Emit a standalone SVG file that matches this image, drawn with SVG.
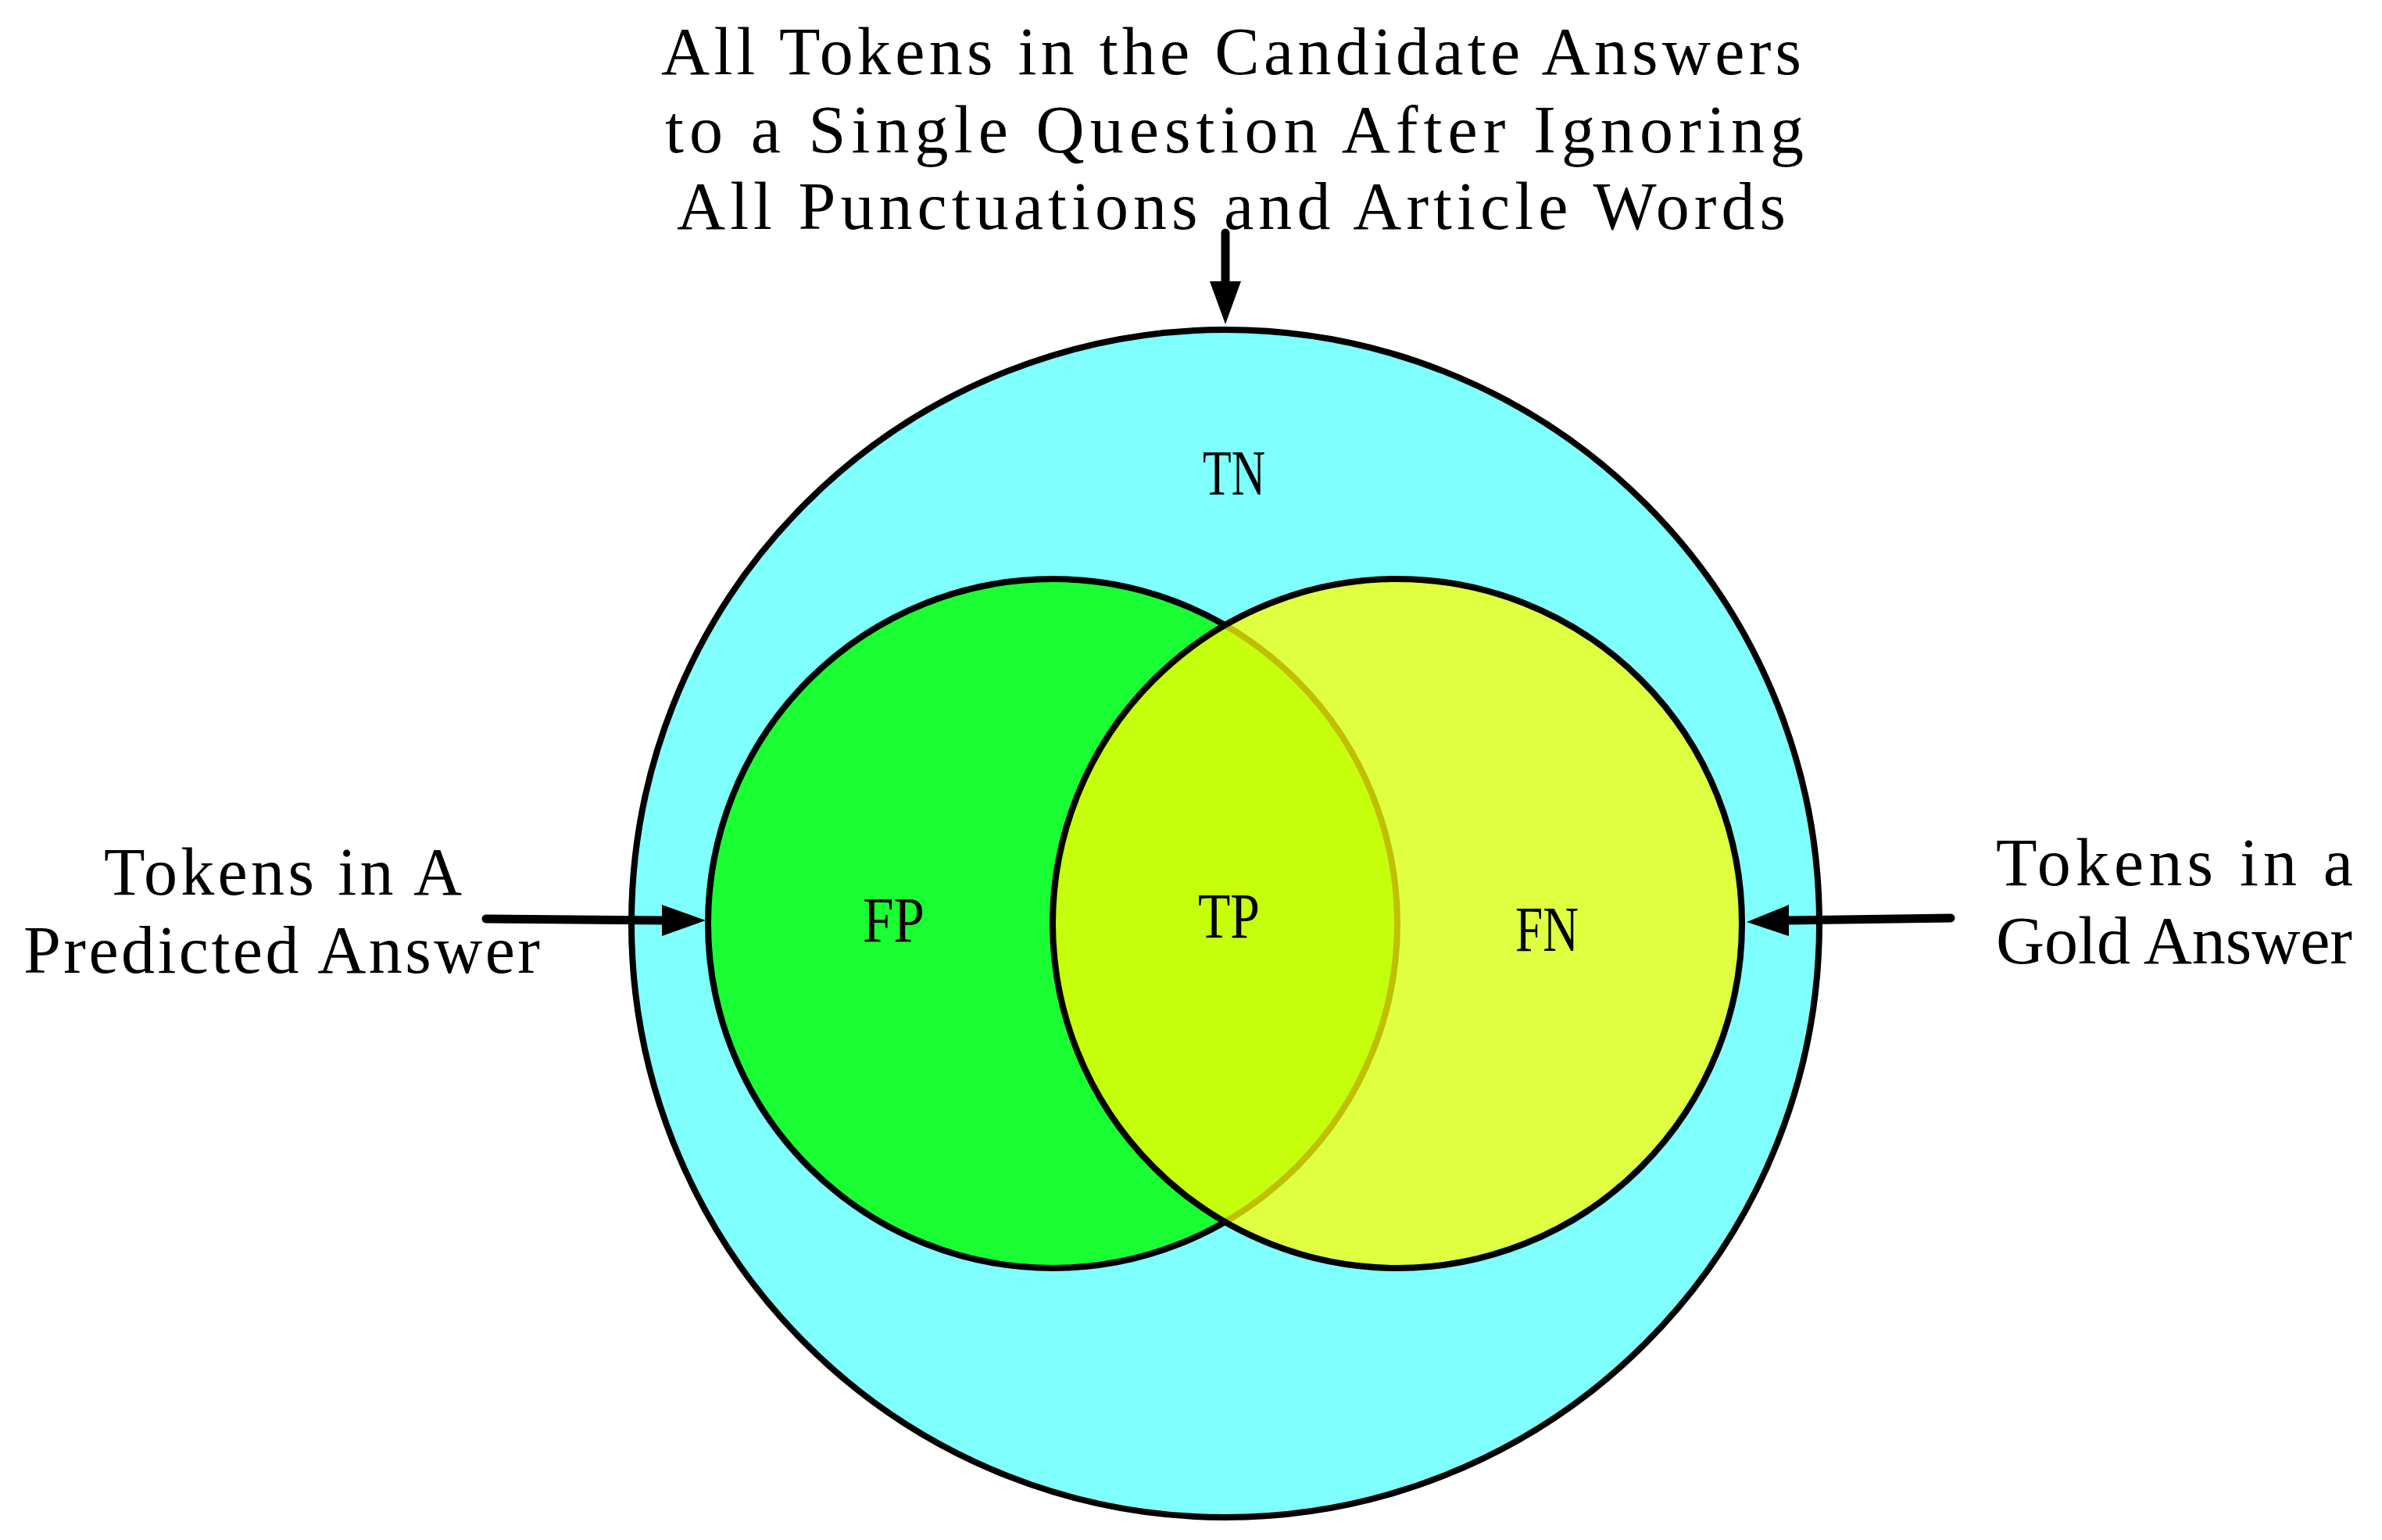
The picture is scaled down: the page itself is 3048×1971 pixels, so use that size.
<svg xmlns="http://www.w3.org/2000/svg" width="3048" height="1971" viewBox="0 0 3048 1971">
<style>
.lbl{font-family:"Liberation Serif","Times New Roman",serif;font-size:86px;fill:#000}
.reg{font-family:"Liberation Serif","Times New Roman",serif;font-size:82px;fill:#000}
.ring{stroke:#000;stroke-width:8}
.ln{stroke:#000;stroke-width:11;stroke-linecap:round;fill:none}
.hd{fill:#000}
</style>
<rect width="3048" height="1971" fill="#fff"/>
<g id="all-tokens">
<circle class="ring" cx="1568" cy="1182" r="760" fill="#80ffff"/>
<text class="reg" x="1539" y="633" textLength="80" lengthAdjust="spacingAndGlyphs">TN</text>
</g>
<g id="predicted">
<circle class="ring" cx="1347" cy="1182" r="441" fill="#1aff33"/>
<text class="reg" x="1104" y="1205" textLength="79" lengthAdjust="spacingAndGlyphs">FP</text>
</g>
<g id="gold">
<circle class="ring" cx="1788" cy="1182" r="441" fill="#ffff00" fill-opacity="0.75"/>
<text class="reg" x="1939" y="1217" textLength="81" lengthAdjust="spacingAndGlyphs">FN</text>
</g>
<g id="intersection">
<text class="reg" x="1533" y="1200" textLength="79" lengthAdjust="spacingAndGlyphs">TP</text>
</g>
<g id="label-top">
<text class="lbl" x="846" y="95" textLength="1459" lengthAdjust="spacing">All Tokens in the Candidate Answers</text>
<text class="lbl" x="851" y="195" textLength="1457" lengthAdjust="spacing">to a Single Question After Ignoring</text>
<text class="lbl" x="866" y="293" textLength="1419" lengthAdjust="spacing">All Punctuations and Article Words</text>
</g>
<g id="label-left">
<text class="lbl" x="133" y="1145" textLength="458" lengthAdjust="spacing">Tokens in A</text>
<text class="lbl" x="30" y="1245" textLength="661" lengthAdjust="spacing">Predicted Answer</text>
</g>
<g id="label-right">
<text class="lbl" x="2554" y="1133" textLength="457" lengthAdjust="spacing">Tokens in a</text>
<text class="lbl" x="2554" y="1233" textLength="456" lengthAdjust="spacing">Gold Answer</text>
</g>
<g id="connectors">
<line class="ln" x1="1568" y1="298" x2="1568" y2="362"/>
<polygon class="hd" points="1548,360 1588,360 1568,415"/>
<line class="ln" x1="622" y1="1176" x2="850" y2="1178"/>
<polygon class="hd" points="847,1158 847,1198 903,1178"/>
<line class="ln" x1="2496" y1="1175" x2="2287" y2="1178"/>
<polygon class="hd" points="2289,1158 2289,1198 2235,1180"/>
</g>
</svg>
